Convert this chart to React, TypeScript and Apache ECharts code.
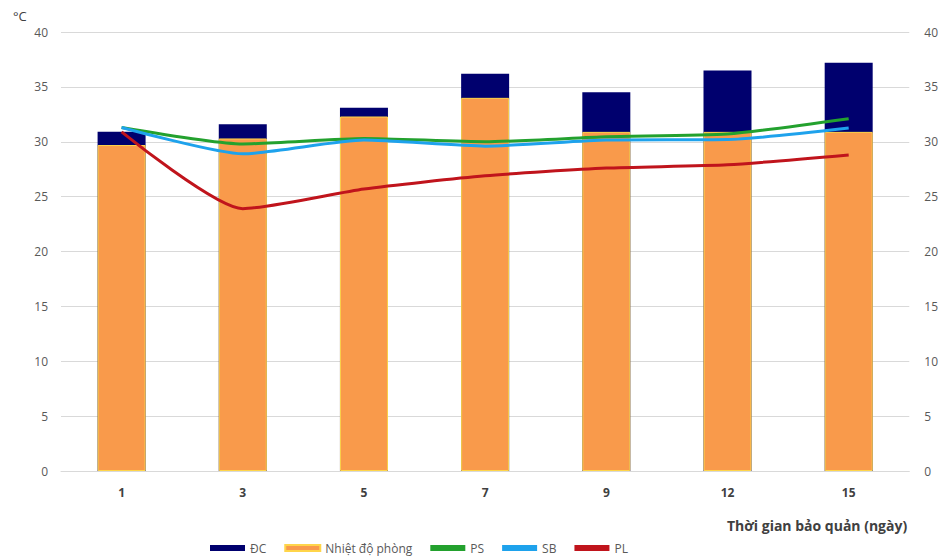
import React, { useEffect, useRef } from "react";
import * as echarts from "echarts";

const categories = ["1", "3", "5", "7", "9", "12", "15"];
const dcValues = [30.9, 31.6, 33.1, 36.2, 34.5, 36.5, 37.2];
const roomValues = [29.7, 30.3, 32.3, 34.0, 30.9, 30.9, 30.9];
const psValues = [31.3, 29.8, 30.3, 30.0, 30.45, 30.7, 32.1];
const sbValues = [31.3, 28.9, 30.15, 29.6, 30.15, 30.2, 31.25];
const plValues = [30.9, 23.9, 25.7, 26.9, 27.6, 27.9, 28.8];
const yTicks = { min: 0, max: 40, interval: 5 };

const FONT = "'Open Sans', 'Liberation Sans', sans-serif";

export default function App() {
  const ref = useRef<HTMLDivElement>(null);
  useEffect(() => {
    if (!ref.current) return;
    const chart = echarts.init(ref.current, null, { renderer: "svg" });
    const axisLabel = { color: "#595959", fontSize: 12, fontFamily: FONT };
    chart.setOption({
      animation: false,
      backgroundColor: "#ffffff",
      grid: { left: 61, right: 31, top: 32, bottom: 87, containLabel: false },
      legend: {
        left: 205,
        top: 537,
        itemWidth: 35,
        itemHeight: 6,
        itemGap: 18,
        textStyle: { color: "#595959", fontSize: 12, fontFamily: FONT },
        data: [
          { name: "ĐC", icon: "rect" },
          { name: "Nhiệt độ phòng", icon: "rect" },
          { name: "PS", icon: "rect" },
          { name: "SB", icon: "rect" },
          { name: "PL", icon: "rect" },
        ],
      },
      xAxis: {
        type: "category",
        data: categories,
        axisLine: { show: true, lineStyle: { color: "#D9D9D9", width: 1 } },
        axisTick: { show: false },
        axisLabel: {
          color: "#404040",
          fontSize: 12,
          fontWeight: "bold",
          fontFamily: FONT,
          margin: 15,
        },
      },
      yAxis: [
        {
          type: "value",
          ...yTicks,
          axisLine: { show: false },
          axisTick: { show: false },
          splitLine: { lineStyle: { color: "#D9D9D9", width: 1 } },
          axisLabel: { ...axisLabel, margin: 13 },
        },
        {
          type: "value",
          ...yTicks,
          axisLine: { show: false },
          axisTick: { show: false },
          splitLine: { show: false },
          axisLabel: { ...axisLabel, margin: 15 },
        },
      ],
      graphic: [
        {
          type: "text",
          left: 13,
          top: 9,
          style: { text: "°C", fontSize: 13, fill: "#404040", fontFamily: FONT },
        },
        {
          type: "text",
          left: 727,
          top: 518,
          style: {
            text: "Thời gian bảo quản (ngày)",
            fontSize: 14,
            fontWeight: "bold",
            fill: "#404040",
            fontFamily: FONT,
          },
        },
      ],
      series: [
        {
          name: "ĐC",
          type: "bar",
          data: dcValues,
          barWidth: 48,
          barGap: "-100%",
          itemStyle: { color: "#00006E" },
          z: 1,
        },
        {
          name: "Nhiệt độ phòng",
          type: "bar",
          data: roomValues,
          barWidth: 48,
          barGap: "-100%",
          itemStyle: { color: "#F99A4B", borderColor: "#FFD54A", borderWidth: 1 },
          z: 2,
        },
        {
          name: "PS",
          type: "line",
          yAxisIndex: 1,
          data: psValues,
          smooth: 0.2,
          symbol: "none",
          lineStyle: { color: "#23A12E", width: 3 },
          itemStyle: { color: "#23A12E" },
          z: 5,
        },
        {
          name: "SB",
          type: "line",
          yAxisIndex: 1,
          data: sbValues,
          smooth: 0.2,
          symbol: "none",
          lineStyle: { color: "#1EA2EC", width: 3 },
          itemStyle: { color: "#1EA2EC" },
          z: 6,
        },
        {
          name: "PL",
          type: "line",
          yAxisIndex: 1,
          data: plValues,
          smooth: 0.2,
          symbol: "none",
          lineStyle: { color: "#C0141C", width: 3 },
          itemStyle: { color: "#C0141C" },
          z: 7,
        },
      ],
    });
    return () => chart.dispose();
  }, []);
  return (
    <div
      ref={ref}
      style={{ position: "absolute", left: 0, top: 0, width: 941, height: 558 }}
    />
  );
}
